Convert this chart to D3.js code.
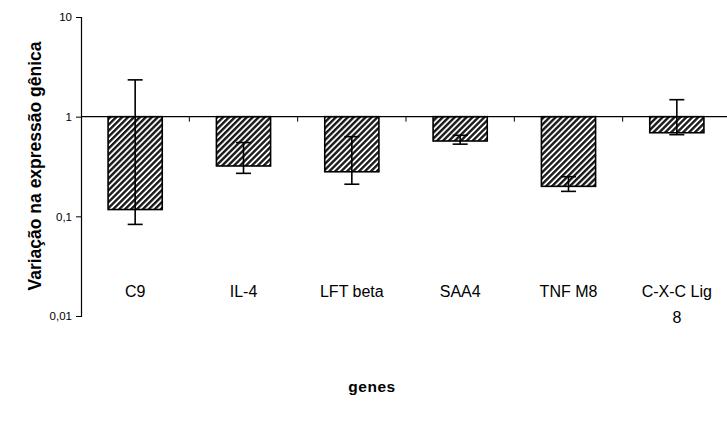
<!DOCTYPE html>
<html>
<head>
<meta charset="utf-8">
<script src="https://cdn.jsdelivr.net/npm/d3@7"></script>
<style>
  body { margin: 0; background: #fff; }
  text { font-family: "Liberation Sans", Arial, sans-serif; }
</style>
</head>
<body>
<div id="chart"></div>
<script>
// genes and fold-change values (log scale, baseline at 1)
const genes = ["C9", "IL-4", "LFT beta", "SAA4", "TNF M8", "C-X-C Lig 8"];
const values = [0.117, 0.32, 0.28, 0.57, 0.20, 0.69];
const errLow = [0.083, 0.27, 0.21, 0.53, 0.178, 0.66];
const errHigh = [2.34, 0.55, 0.63, 0.65, 0.25, 1.48];
const yTicks = [0.01, 0.1, 1, 10];
const yTickLabels = ["0,01", "0,1", "1", "10"];

const width = 727, height = 422;

const svg = d3.select("#chart")
  .append("svg")
  .attr("width", width)
  .attr("height", height);

// hatch fill like the old excel pattern
const pat = svg.append("defs").append("pattern")
  .attr("id", "hatch")
  .attr("patternUnits", "userSpaceOnUse")
  .attr("width", 4.2)
  .attr("height", 4.2)
  .attr("patternTransform", "rotate(45)");
pat.append("rect").attr("width", 4.2).attr("height", 4.2).attr("fill", "#fff");
pat.append("rect").attr("width", 2.4).attr("height", 4.2).attr("fill", "#1a1a1a");

const x = d3.scaleBand()
  .domain(genes)
  .range([81, 731])
  .paddingInner(0)
  .paddingOuter(0);

const y = d3.scaleLog()
  .domain([0.01, 10])
  .range([316, 17]);

// y axis
svg.append("g")
  .attr("transform", "translate(81,0)")
  .call(d3.axisLeft(y).tickValues(yTicks)
    .tickFormat((d, i) => yTickLabels[i]).tickSize(5).tickPadding(4))
  .call(g => g.select(".domain").attr("stroke", "#000").attr("stroke-width", 1.2))
  .call(g => g.selectAll("text").attr("font-size", 11.5).attr("fill", "#000")
    .attr("font-family", "Liberation Sans, Arial, sans-serif"));

// bars from 1 to the value
const bar = svg.append("g").selectAll("g")
  .data(genes)
  .enter().append("g");

bar.append("rect")
  .attr("x", d => x(d) + x.bandwidth() / 4)
  .attr("width", x.bandwidth() / 2)
  .attr("y", (d, i) => Math.min(y(1), y(values[i])))
  .attr("height", (d, i) => Math.abs(y(values[i]) - y(1)))
  .attr("fill", "url(#hatch)")
  .attr("stroke", "#000")
  .attr("stroke-width", 1.6);

// x axis sits on y = 1
svg.append("g")
  .attr("transform", `translate(0,${y(1)})`)
  .call(g => g.append("line")
    .attr("x1", 81).attr("x2", width)
    .attr("stroke", "#000").attr("stroke-width", 1.2))
  .call(g => g.selectAll(".tk")
    .data(genes.slice(1))
    .enter().append("line")
    .attr("x1", d => x(d)).attr("x2", d => x(d))
    .attr("y1", 0).attr("y2", 5)
    .attr("stroke", "#000"));

// error bars
const err = svg.append("g").selectAll("g")
  .data(genes)
  .enter().append("g")
  .attr("stroke", "#000")
  .attr("stroke-width", 1.6);

err.append("line")
  .attr("x1", d => x(d) + x.bandwidth() / 2)
  .attr("x2", d => x(d) + x.bandwidth() / 2)
  .attr("y1", (d, i) => y(errHigh[i]))
  .attr("y2", (d, i) => y(errLow[i]));

[errHigh, errLow].forEach(arr => {
  err.append("line")
    .attr("x1", d => x(d) + x.bandwidth() / 2 - 7.5)
    .attr("x2", d => x(d) + x.bandwidth() / 2 + 7.5)
    .attr("y1", (d, i) => y(arr[i]))
    .attr("y2", (d, i) => y(arr[i]));
});

// category labels, the last one wraps
const lab = svg.append("g").selectAll("text")
  .data(genes)
  .enter().append("text")
  .attr("x", d => x(d) + x.bandwidth() / 2)
  .attr("y", 297)
  .attr("text-anchor", "middle")
  .attr("font-size", 16)
  .attr("fill", "#000");

lab.each(function(d) {
  const t = d3.select(this);
  if (d === "C-X-C Lig 8") {
    t.append("tspan").attr("x", x(d) + x.bandwidth() / 2).text("C-X-C Lig");
    t.append("tspan").attr("x", x(d) + x.bandwidth() / 2).attr("dy", 26).text("8");
  } else {
    t.text(d);
  }
});

// axis titles
svg.append("text")
  .attr("x", 372)
  .attr("y", 392)
  .attr("text-anchor", "middle")
  .attr("font-size", 15.5)
  .attr("font-weight", "bold")
  .attr("letter-spacing", 0.5)
  .text("genes");

svg.append("text")
  .attr("transform", "translate(41,166) rotate(-90)")
  .attr("text-anchor", "middle")
  .attr("font-size", 17.5)
  .attr("font-weight", "bold")
  .text("Variação na expressão gênica");
</script>
</body>
</html>
